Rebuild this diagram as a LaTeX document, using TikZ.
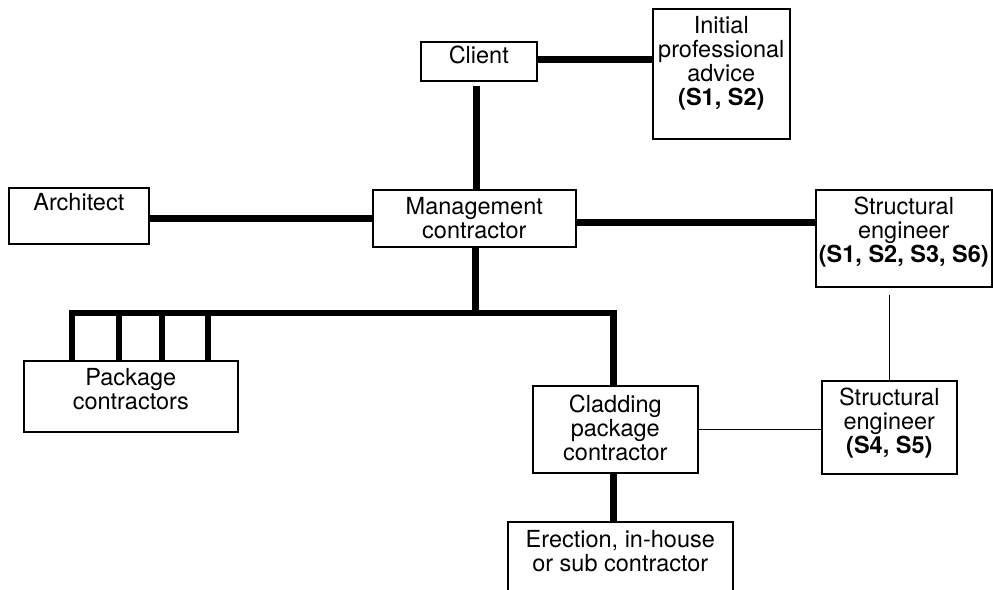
\documentclass[tikz,border=0pt]{standalone}
\usepackage{fontspec}
\setmainfont{TeX Gyre Heros}
\begin{document}
\begin{tikzpicture}[x=1pt,y=-1pt,
  box/.style={draw=black, line width=1.6pt, rectangle, inner sep=0pt, anchor=north west, fill=white},
  lbl/.style={inner sep=0pt, anchor=north, align=center, font=\fontsize{23.5}{24}\selectfont},
  heavy/.style={line width=6.8pt, line cap=rect, line join=miter},
  light/.style={line width=1.4pt}]
\useasboundingbox[fill=white] (0,0) rectangle (993,589);
\clip (0,0) rectangle (993,589);
% thick connectors first (drawn under boxes)
\coordinate (b1) at (72,313);
\coordinate (b2) at (119,313);
\coordinate (b3) at (162,313);
\coordinate (b4) at (208,313);
% boxes
\node[box, minimum width=116, minimum height=39] (client) at (420,41) {};
\node[box, minimum width=137, minimum height=130] (ipa) at (652,8) {};
\node[box, minimum width=140, minimum height=56] (arch) at (8,187) {};
\node[box, minimum width=203, minimum height=57] (mgmt) at (372,189) {};
\node[box, minimum width=176, minimum height=97] (se1) at (815,189) {};
\node[box, minimum width=214, minimum height=71] (pkg) at (23,360) {};
\node[box, minimum width=165, minimum height=87] (clad) at (532,385) {};
\node[box, minimum width=135, minimum height=93] (se2) at (821,380) {};
\node[box, minimum width=225, minimum height=90] (erect) at (507,521) {};
% labels
\node[lbl] (clientT) at ([yshift=-5pt]client.north) {Client};
\node[lbl] (ipaT) at ([yshift=-8pt]ipa.north) {Initial\\professional\\advice\\\textbf{(S1, S2)}};
\node[lbl] (archT) at ([yshift=-6pt]arch.north) {Architect};
\node[lbl] (mgmtT) at ([yshift=-8pt]mgmt.north) {Management\\contractor};
\node[lbl] (se1T) at ([yshift=-8pt]se1.north) {Structural\\engineer\\\textbf{(S1, S2, S3, S6)}};
\node[lbl] (pkgT) at ([yshift=-8pt]pkg.north) {Package\\contractors};
\node[lbl] (cladT) at ([yshift=-10pt]clad.north) {Cladding\\package\\contractor};
\node[lbl] (se2T) at ([yshift=-8pt]se2.north) {Structural\\engineer\\\textbf{(S4, S5)}};
\node[lbl] (erectT) at ([yshift=-9pt]erect.north) {Erection, in-house\\or sub contractor};
% heavy connectors
\draw[heavy, line cap=butt] ([yshift=2pt]client.east) -- ([yshift=2pt]client.east -| ipa.west);
\draw[heavy, line cap=butt, shorten <=4pt] ([xshift=-2pt]client.south) -- ([xshift=-2pt]client.south |- mgmt.north);
\draw[heavy, line cap=butt] (mgmt.west) -- (mgmt.west -| arch.east);
\draw[heavy, line cap=butt] ([yshift=-4pt]mgmt.east) -- ([yshift=-4pt]mgmt.east -| se1.west);
\draw[heavy, line cap=butt] ([xshift=1pt]mgmt.south) -- ([xshift=1pt]mgmt.south |- b1);
\draw[heavy, line cap=butt] (b1 |- pkg.north) -- (b1) -| ([xshift=-2pt]clad.north);
\draw[heavy, line cap=butt] (b2) -- (b2 |- pkg.north);
\draw[heavy, line cap=butt] (b3) -- (b3 |- pkg.north);
\draw[heavy, line cap=butt] (b4) -- (b4 |- pkg.north);
\draw[heavy, line cap=butt] ([xshift=-7pt]erect.north |- clad.south) -- ([xshift=-7pt]erect.north);
% light connectors
\draw[light, shorten >=7pt] (se2.north) -- (se2.north |- se1.south);
\draw[light] (clad.east) -- (clad.east -| se2.west);
\end{tikzpicture}
\end{document}
